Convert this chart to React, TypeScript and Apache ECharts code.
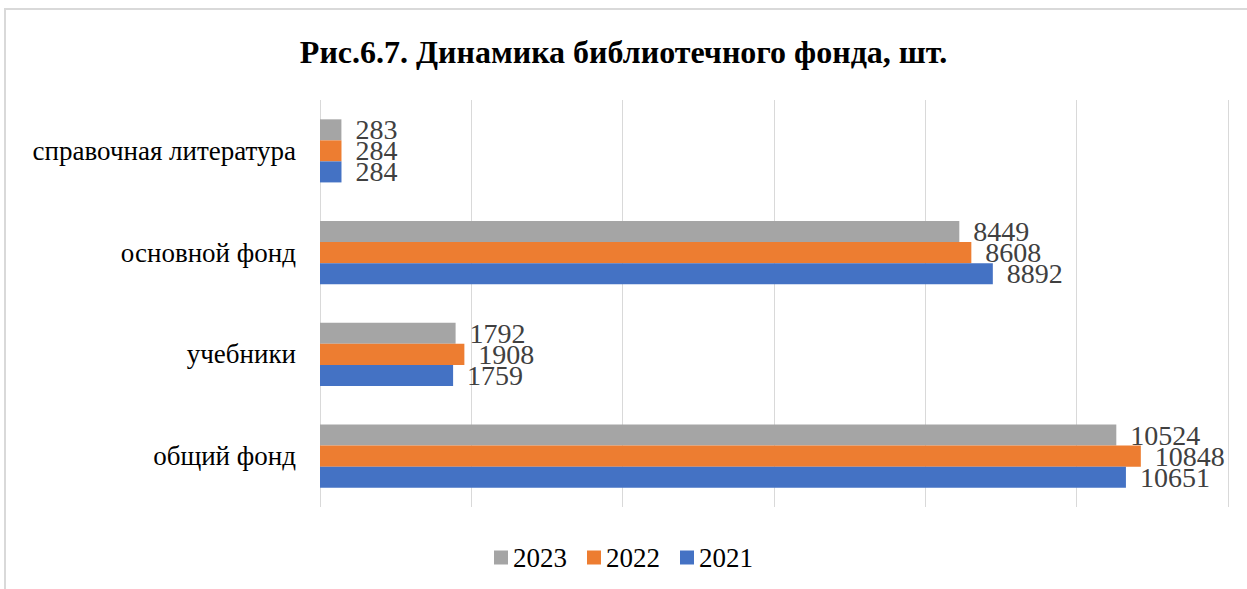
import React, { useEffect, useRef } from "react";
import * as echarts from "echarts";

const categories = ["общий фонд", "учебники", "основной фонд", "справочная литература"];
const years = ["2023", "2022", "2021"];
const values2023 = [10524, 1792, 8449, 283];
const values2022 = [10848, 1908, 8608, 284];
const values2021 = [10651, 1759, 8892, 284];
const colors = ["#A5A5A5", "#ED7D31", "#4472C4"];

const FONT = "Liberation Serif";

export default function App() {
  const ref = useRef<HTMLDivElement>(null);
  useEffect(() => {
    document.body.style.margin = "0";
    const chart = echarts.init(ref.current!, null, { renderer: "svg" });
    const seriesData = [values2023, values2022, values2021];
    chart.setOption({
      animation: false,
      backgroundColor: "#ffffff",
      textStyle: { fontFamily: FONT },
      title: {
        text: "Рис.6.7. Динамика библиотечного фонда, шт.",
        left: "center",
        top: 31,
        textStyle: { fontFamily: FONT, fontSize: 32, fontWeight: "bold", color: "#000000" },
      },
      legend: {
        data: ["2023", "2022", "2021"],
        bottom: 13,
        left: "center",
        itemWidth: 14,
        itemHeight: 14,
        itemGap: 20,
        icon: "rect",
        textStyle: { fontFamily: FONT, fontSize: 27, color: "#000000" },
      },
      grid: { left: 320, right: 19, top: 100, bottom: 82, containLabel: false },
      xAxis: {
        type: "value",
        min: 0,
        max: 12000,
        interval: 2000,
        axisLabel: { show: false },
        axisLine: { show: false },
        axisTick: { show: false },
        splitLine: { show: true, lineStyle: { color: "#d9d9d9", width: 1 } },
      },
      yAxis: {
        type: "category",
        data: categories,
        axisLine: { show: false },
        axisTick: { show: false },
        axisLabel: { fontFamily: FONT, fontSize: 27, color: "#000000", margin: 24 },
      },
      series: years.map((y, i) => ({
        name: y,
        type: "bar",
        data: seriesData[i],
        barGap: "0%",
        barCategoryGap: "38%",
        itemStyle: { color: colors[i] },
        label: {
          show: true,
          position: "right",
          distance: 14,
          fontFamily: FONT,
          fontSize: 28,
          lineHeight: 20,
          color: "#404040",
        },
      })),
      graphic: [
        {
          type: "rect",
          shape: { x: 5, y: 9, width: 1260, height: 620 },
          style: { fill: "none", stroke: "#d9d9d9", lineWidth: 2 },
          silent: true,
        },
      ],
    });
    return () => chart.dispose();
  }, []);
  return <div ref={ref} style={{ width: 1247, height: 589 }} />;
}
